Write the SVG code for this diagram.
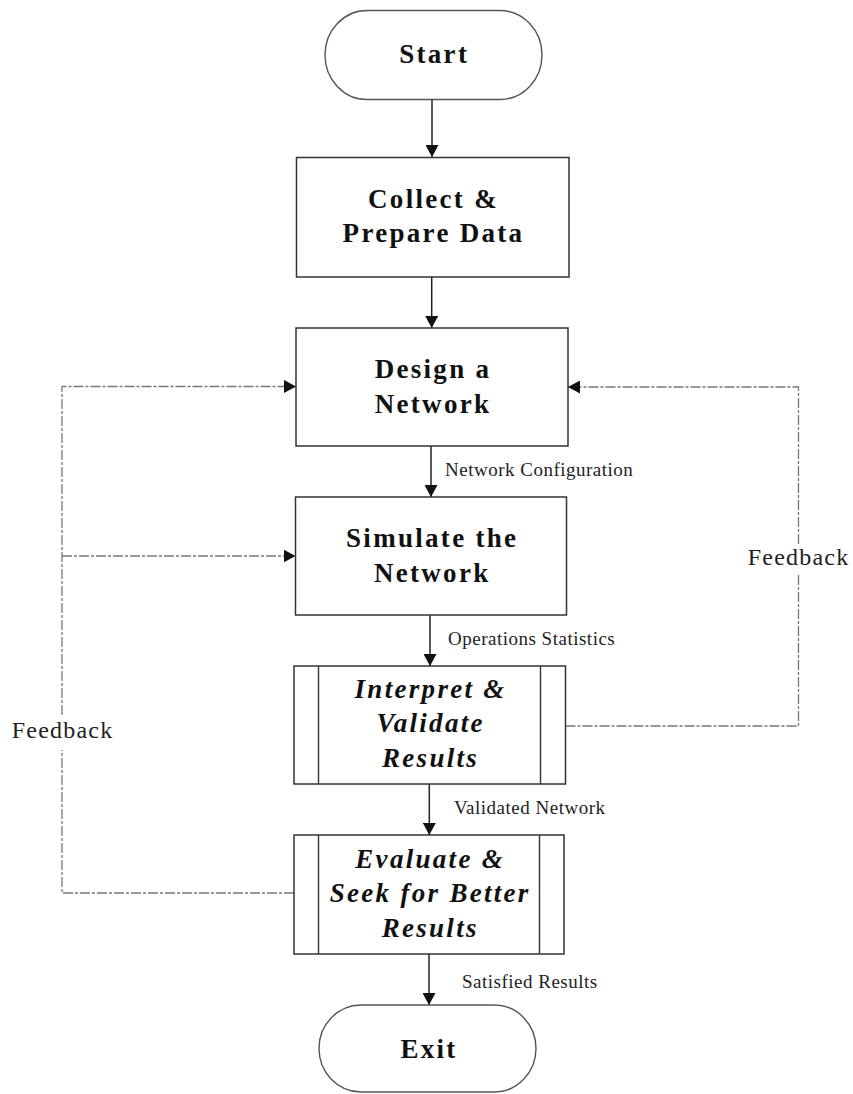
<svg xmlns="http://www.w3.org/2000/svg" width="853" height="1094" viewBox="0 0 853 1094">
  <style>
    .box { fill: #ffffff; stroke: #333333; stroke-width: 1.5; }
    .term { fill: #ffffff; stroke: #555555; stroke-width: 1.4; }
    .div { stroke: #333333; stroke-width: 1.4; fill: none; }
    .title { font-family: "Liberation Serif", "Times New Roman", serif; font-weight: bold; font-size: 27px; letter-spacing: 2.3px; fill: #111111; text-anchor: middle; }
    .ital { font-style: italic; }
    .flow { stroke: #222222; stroke-width: 1.5; fill: none; }
    .fb { stroke: #777777; stroke-width: 1.3; fill: none; stroke-dasharray: 10 2 3 2; }
    .lbl { font-family: "Liberation Serif", "Times New Roman", serif; font-size: 19px; letter-spacing: 0.5px; fill: #222222; }
    .fblbl { font-family: "Liberation Serif", "Times New Roman", serif; font-size: 24px; letter-spacing: 1.2px; fill: #222222; text-anchor: middle; }
  </style>
  <defs>
    <marker id="arrow" markerUnits="userSpaceOnUse" markerWidth="13" markerHeight="13" refX="12" refY="6.5" orient="auto">
      <path d="M0,0 L12,6.5 L0,13 Z" fill="#111111"/>
    </marker>
  </defs>

  <rect width="853" height="1094" fill="#ffffff"/>

  <!-- connectors -->
  <g id="connectors">
    <line class="flow" x1="432" y1="100" x2="432" y2="157" marker-end="url(#arrow)"/>
    <line class="flow" x1="431.7" y1="277" x2="431.7" y2="328" marker-end="url(#arrow)"/>
    <line class="flow" x1="431" y1="446" x2="431" y2="497" marker-end="url(#arrow)"/>
    <line class="flow" x1="430" y1="615" x2="430" y2="666" marker-end="url(#arrow)"/>
    <line class="flow" x1="429.3" y1="784" x2="429.3" y2="835" marker-end="url(#arrow)"/>
    <line class="flow" x1="429" y1="954" x2="429" y2="1005" marker-end="url(#arrow)"/>

    <!-- left feedback loop from Evaluate back to Design and Simulate -->
    <path class="fb" d="M294,893 H62 V750"/>
    <path class="fb" d="M62,715 V386.5 H296" marker-end="url(#arrow)"/>
    <path class="fb" d="M62,556 H295.5" marker-end="url(#arrow)"/>

    <!-- right feedback loop from Interpret back to Design -->
    <path class="fb" d="M565.5,726 H798.5 V575"/>
    <path class="fb" d="M798.5,544 V387 H568" marker-end="url(#arrow)"/>

    <text class="lbl" x="445" y="476">Network Configuration</text>
    <text class="lbl" x="448" y="645">Operations Statistics</text>
    <text class="lbl" x="454" y="814">Validated Network</text>
    <text class="lbl" x="462" y="988">Satisfied Results</text>
    <text class="fblbl" x="62.6" y="738">Feedback</text>
    <text class="fblbl" x="798.6" y="565">Feedback</text>
  </g>

  <g id="start">
    <path class="term" d="M367,10.5 H500 A42,44.5 0 0 1 500,99.5 H367 A42,44.5 0 0 1 367,10.5 Z"/>
    <text class="title" x="434.2" y="63">Start</text>
  </g>

  <g id="collect">
    <rect class="box" x="296.5" y="157.5" width="272.5" height="119.5"/>
    <text class="title" x="433.5" y="208">Collect &amp;</text>
    <text class="title" x="433.5" y="241.5">Prepare Data</text>
  </g>

  <g id="design">
    <rect class="box" x="296" y="328" width="272" height="118"/>
    <text class="title" x="433" y="378">Design a</text>
    <text class="title" x="433" y="412.5">Network</text>
  </g>

  <g id="simulate">
    <rect class="box" x="295.5" y="497" width="271" height="118"/>
    <text class="title" x="432.2" y="546.5">Simulate the</text>
    <text class="title" x="432.2" y="581.5">Network</text>
  </g>

  <g id="interpret">
    <rect class="box" x="294" y="666" width="271.5" height="118"/>
    <line class="div" x1="318.5" y1="666" x2="318.5" y2="784"/>
    <line class="div" x1="540.5" y1="666" x2="540.5" y2="784"/>
    <text class="title ital" x="430.6" y="698">Interpret &amp;</text>
    <text class="title ital" x="430.6" y="731.7">Validate</text>
    <text class="title ital" x="430.6" y="766.5">Results</text>
  </g>

  <g id="evaluate">
    <rect class="box" x="294" y="835" width="270" height="119"/>
    <line class="div" x1="318.5" y1="835" x2="318.5" y2="954"/>
    <line class="div" x1="539.5" y1="835" x2="539.5" y2="954"/>
    <text class="title ital" x="430.2" y="868.3">Evaluate &amp;</text>
    <text class="title ital" x="430.2" y="901.7">Seek for Better</text>
    <text class="title ital" x="430.2" y="936.5">Results</text>
  </g>

  <g id="exit">
    <path class="term" d="M361,1005 H494 A42,43.5 0 0 1 494,1092 H361 A42,43.5 0 0 1 361,1005 Z"/>
    <text class="title" x="429" y="1058">Exit</text>
  </g>
</svg>
